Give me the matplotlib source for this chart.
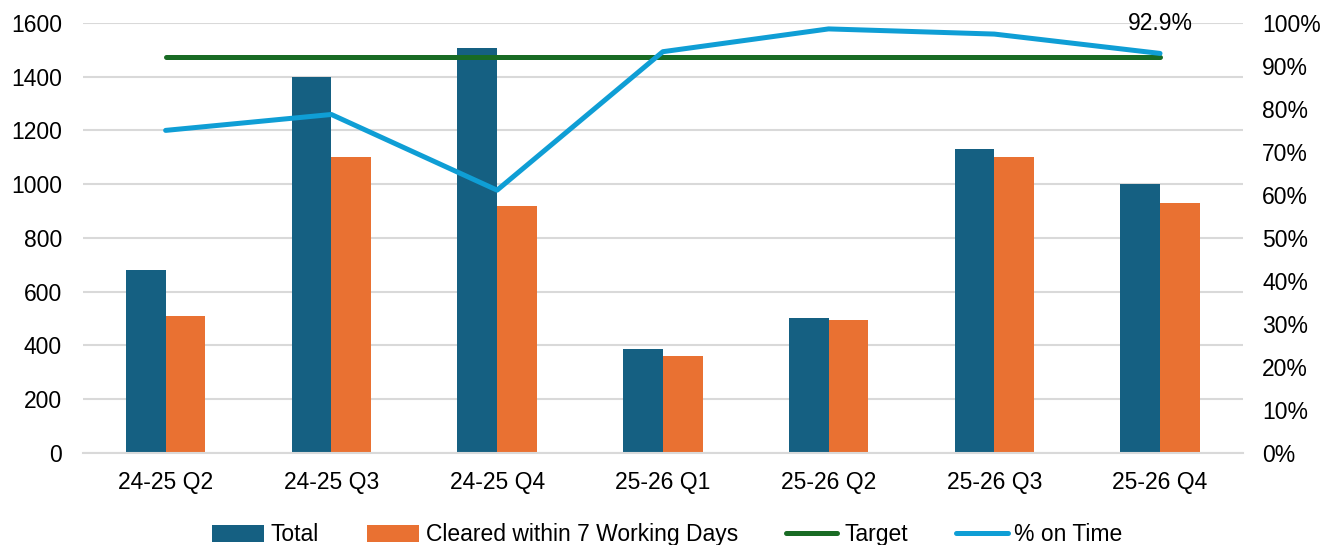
import matplotlib.pyplot as plt
import numpy as np

plt.rcParams["font.family"] = ["Liberation Sans", "DejaVu Sans"]

quarters = ["24-25 Q2", "24-25 Q3", "24-25 Q4", "25-26 Q1", "25-26 Q2", "25-26 Q3", "25-26 Q4"]
total = [680, 1397, 1505, 387, 502, 1130, 1000]
cleared = [510, 1100, 920, 361, 495, 1101, 929]
target = [0.92] * 7
on_time = [0.750, 0.787, 0.611, 0.933, 0.986, 0.974, 0.929]

blue_dark = "#156082"
orange = "#E97132"
green = "#196B24"
light_blue = "#0F9ED5"
grid = "#D9D9D9"


def main():
    fig = plt.figure(figsize=(13.35, 5.45), dpi=100)
    ax = fig.add_axes([0.062, 0.169, 0.869, 0.789])
    ax2 = ax.twinx()

    x = np.arange(len(quarters))
    w = 0.24
    ax.bar(x - w / 2, total, w, color=blue_dark, label="Total", zorder=2)
    ax.bar(x + w / 2, cleared, w, color=orange, label="Cleared within 7 Working Days", zorder=2)

    ax2.plot(x, target, color=green, lw=3.6, label="Target", solid_capstyle="round")
    ax2.plot(x, on_time, color=light_blue, lw=3.6, label="% on Time", solid_capstyle="round")
    ax2.annotate(f"{on_time[-1] * 100:.1f}%", (x[-1], on_time[-1]), xytext=(0, 13),
                 textcoords="offset points", ha="center", va="bottom", fontsize=16.5)

    ax.set_xlim(-0.5, len(quarters) - 0.5)
    ax.set_ylim(0, 1600)
    ax.set_yticks(range(0, 1601, 200))
    ax2.set_ylim(0, 1.0)
    ax2.set_yticks(np.arange(0, 1.01, 0.1))
    ax2.set_yticklabels([f"{int(round(v * 100))}%" for v in np.arange(0, 1.01, 0.1)])

    ax.set_xticks(x)
    ax.set_xticklabels(quarters)
    ax.yaxis.grid(True, color=grid, lw=1.5, zorder=0)
    ax.set_axisbelow(True)
    for a in (ax, ax2):
        for s in a.spines.values():
            s.set_visible(False)
        a.tick_params(length=0, labelsize=16.5)
    ax.spines["bottom"].set_visible(True)
    ax.spines["bottom"].set_color(grid)
    ax.spines["bottom"].set_linewidth(1.5)
    ax.tick_params(axis="x", pad=13)
    ax.tick_params(axis="y", pad=15)
    ax2.tick_params(axis="y", pad=14)

    h1, l1 = ax.get_legend_handles_labels()
    h2, l2 = ax2.get_legend_handles_labels()
    fig.legend(h1 + h2, l1 + l2, loc="lower center", ncol=4, frameon=False, fontsize=16.5,
               bbox_to_anchor=(0.5, -0.04), handlelength=2.25, handleheight=0.75,
               columnspacing=2.1, handletextpad=0.3)

    fig.savefig("out.png", dpi=100)
    plt.close(fig)


if __name__ == "__main__":
    main()
